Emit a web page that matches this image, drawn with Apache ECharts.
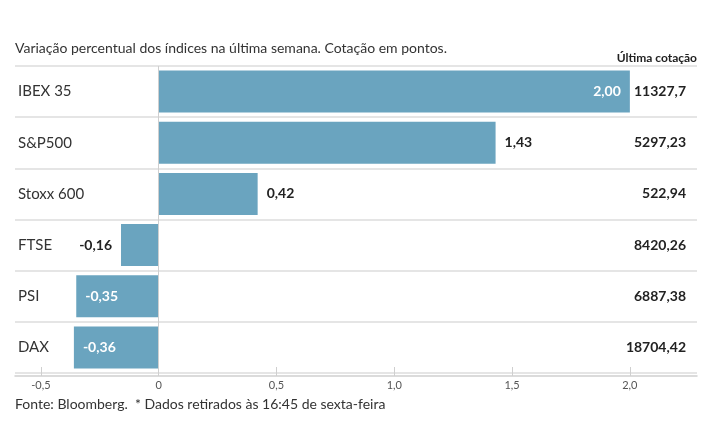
<!DOCTYPE html>
<html>
<head>
<meta charset="utf-8">
<script src="https://cdn.jsdelivr.net/npm/echarts@6/dist/echarts.min.js"></script>
<style>
  html, body { margin: 0; padding: 0; background: #fff; }
  #chart { width: 715px; height: 445px; }
</style>
</head>
<body>
<div id="chart"></div>
<script>
// dados
const categories = ['IBEX 35', 'S&P500', 'Stoxx 600', 'FTSE', 'PSI', 'DAX']
const changes = [2.00, 1.43, 0.42, -0.16, -0.35, -0.36]
const quotes = ['11327,7', '5297,23', '522,94', '8420,26', '6887,38', '18704,42']
const tickValues = [-0.5, 0, 0.5, 1, 1.5, 2]

const FONT = 'Lato'
const barColor = '#6aa4bf'
// which labels go inside the bar (white) vs outside (dark)
const labelInside = [true, false, false, false, true, true]

const fmt = (v, d) => v.toFixed(d).replace('.', ',')

const myChart = echarts.init(document.getElementById('chart'))

const barData = changes.map((v, i) => {
  const inside = labelInside[i]
  let position
  if (v >= 0) position = inside ? 'insideRight' : 'right'
  else position = inside ? 'insideLeft' : 'left'
  return {
    value: v,
    label: {
      show: true,
      position: position,
      distance: 9,
      color: inside ? '#fff' : '#222',
      fontWeight: 'bold',
      fontSize: 14,
      fontFamily: FONT,
      formatter: (p) => fmt(p.value, 2)
    }
  }
})

const myOption = {
  animation: false,
  backgroundColor: '#fff',
  title: [
    {
      text: 'Variação percentual dos índices na última semana. Cotação em pontos.',
      left: 10,
      top: 36,
      textStyle: { fontSize: 14, fontWeight: 'normal', color: '#333', fontFamily: FONT }
    },
    {
      text: 'Fonte: Bloomberg.  * Dados retirados às 16:45 de sexta-feira',
      left: 10,
      top: 392,
      textStyle: { fontSize: 14, fontWeight: 'normal', color: '#333', fontFamily: FONT }
    }
  ],
  grid: {
    left: 15,
    right: 18,
    top: 66,
    height: 307,
    containLabel: false
  },
  xAxis: {
    type: 'value',
    min: -0.61,
    max: 2.285,
    offset: 3,
    axisLine: { show: true, lineStyle: { color: '#cfcfcf', width: 1.5 } },
    axisTick: {
      show: true,
      inside: true,
      length: 9,
      customValues: tickValues,
      lineStyle: { color: '#cfcfcf', width: 1 }
    },
    axisLabel: {
      customValues: tickValues,
      margin: 4,
      fontSize: 11,
      color: '#555',
      fontFamily: FONT,
      formatter: (v) => v === 0 ? '0' : fmt(v, 1)
    },
    splitLine: { show: false }
  },
  yAxis: [
    {
      type: 'category',
      inverse: true,
      data: categories,
      axisLine: { show: false },
      axisTick: { show: false },
      axisLabel: {
        inside: true,
        margin: 3,
        fontSize: 15,
        color: '#333',
        fontFamily: FONT
      },
      splitLine: { show: true, lineStyle: { color: '#dcdcdc', width: 1.5 } }
    },
    {
      type: 'category',
      inverse: true,
      position: 'right',
      data: quotes,
      name: 'Última cotação',
      nameLocation: 'start',
      nameGap: 2,
      nameTextStyle: {
        align: 'right',
        fontSize: 12,
        fontWeight: 'bold',
        color: '#222',
        fontFamily: FONT
      },
      axisLine: { show: false },
      axisTick: { show: false },
      axisLabel: {
        inside: true,
        margin: 11,
        fontSize: 14,
        fontWeight: 'bold',
        color: '#222',
        fontFamily: FONT
      },
      splitLine: { show: false }
    }
  ],
  series: [
    {
      type: 'bar',
      data: barData,
      barWidth: 42,
      itemStyle: { color: barColor },
      markLine: {
        silent: true,
        symbol: 'none',
        label: { show: false },
        lineStyle: { color: '#cfcfcf', type: 'solid', width: 1 },
        data: [{ xAxis: 0 }]
      }
    }
  ]
}
myChart.setOption(myOption)
</script>
</body>
</html>
